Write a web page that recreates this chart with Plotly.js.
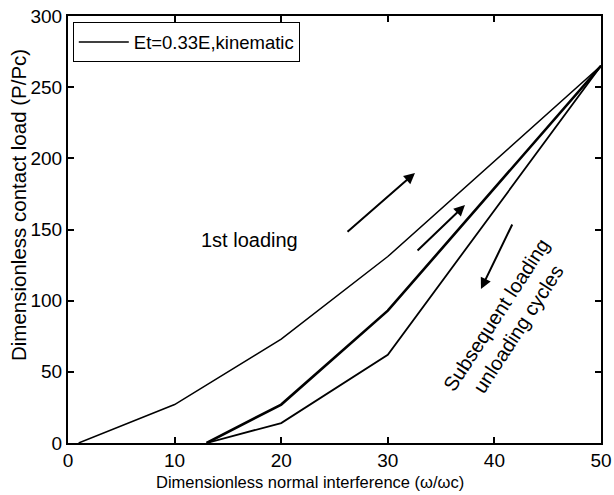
<!DOCTYPE html>
<html><head><meta charset="utf-8">
<script src="https://cdn.plot.ly/plotly-3.0.1.min.js"></script>
<style>body{margin:0;background:#fff}#g{width:614px;height:495px}</style>
</head><body><div id="g"></div>
<script>
// Data
const firstX = [1, 10, 20, 30, 50];
const firstY = [0, 27, 73, 131, 265];
const subLoadX = [13, 20, 30, 50];
const subLoadY = [0, 27, 93, 265];
const unloadX = [13, 20, 30, 50];
const unloadY = [0, 14, 62, 265];
const xTicks = [0, 10, 20, 30, 40, 50];
const yTicks = [0, 50, 100, 150, 200, 250, 300];
const legendName = 'Et=0.33E,kinematic';
const xTitle = 'Dimensionless normal interference (ω/ωc)';
const yTitle = 'Dimensionless contact load (P/Pc)';

const fam = 'Liberation Sans, Arial, sans-serif';
const f = s => ({family: fam, size: s, color: '#000'});
const traces = [
  {x: firstX, y: firstY, mode: 'lines', name: legendName, line: {color: '#000', width: 1.5}, showlegend: true},
  {x: subLoadX, y: subLoadY, mode: 'lines', line: {color: '#000', width: 2.6}, showlegend: false},
  {x: unloadX, y: unloadY, mode: 'lines', line: {color: '#000', width: 1.8}, showlegend: false}
];
const arrow = (x, y, ax, ay) => ({x, y, ax, ay, xref: 'x', yref: 'y', axref: 'x', ayref: 'y',
  showarrow: true, arrowhead: 2, arrowsize: 1.1, arrowwidth: 2, arrowcolor: '#000', text: ''});
const axisCommon = {ticks: 'inside', ticklen: 6, tickwidth: 1.5, tickcolor: '#000',
  showline: true, linecolor: '#000', linewidth: 2, mirror: 'ticks', showgrid: false, zeroline: false,
  tickfont: f(19)};
const pw = 614 - 68 - 13, ph = 495 - 16 - 52;
const layout = {
  width: 614, height: 495,
  margin: {l: 68, r: 13, t: 16, b: 52},
  paper_bgcolor: '#fff', plot_bgcolor: '#fff',
  font: f(16),
  xaxis: Object.assign({range: [0, 50], tickvals: xTicks, ticklabelstandoff: -1}, axisCommon),
  yaxis: Object.assign({range: [0, 300], tickvals: yTicks}, axisCommon),
  showlegend: true,
  legend: {x: 0.009, y: 0.985, xanchor: 'left', yanchor: 'top', bgcolor: '#fff', bordercolor: '#000', borderwidth: 1,
    font: f(18.5), itemwidth: 50, entrywidth: 232, tracegroupgap: 0},
  annotations: [
    arrow(32.55, 189.7, 26.08, 147.5),
    arrow(37.24, 167.2, 32.65, 134.2),
    arrow(38.74, 108.2, 41.74, 154.6),
    {x: 17, y: 142.6, xref: 'x', yref: 'y', text: '1st loading', showarrow: false, font: f(20)},
    {x: 41.2, y: 85, xref: 'x', yref: 'y', text: 'Subsequent loading<br>unloading cycles', showarrow: false,
      textangle: -57, font: f(20)},
    {x: (310 - 68) / pw, y: (443 - 482) / ph, xref: 'paper', yref: 'paper', xanchor: 'center', yanchor: 'middle',
      text: xTitle, showarrow: false, font: f(16.5)},
    {x: (18 - 68) / pw, y: (443 - 205) / ph, xref: 'paper', yref: 'paper', xanchor: 'center', yanchor: 'middle',
      text: yTitle, showarrow: false, textangle: -90, font: f(20.5)}
  ]
};
Plotly.newPlot('g', traces, layout, {displayModeBar: false});
</script></body></html>
